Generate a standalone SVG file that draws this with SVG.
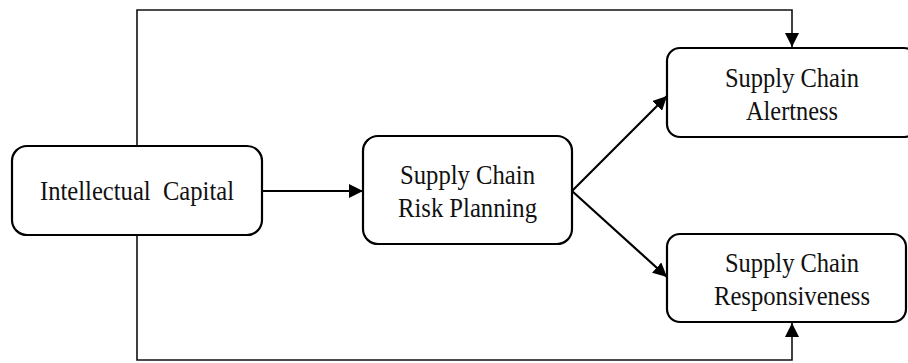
<svg xmlns="http://www.w3.org/2000/svg" width="908" height="363" viewBox="0 0 908 363">
<style>
.box{fill:#fff;stroke:#000;stroke-width:2.2}
.lbl{font-family:"Liberation Serif","Times New Roman",serif;font-size:27px;fill:#111;text-anchor:middle;white-space:pre}
.thin{fill:none;stroke:#111;stroke-width:1.6}
.thick{fill:none;stroke:#000;stroke-width:2.2}
</style>
<defs>
<marker id="ah" viewBox="0 0 14 14" refX="14" refY="7" markerWidth="14" markerHeight="14" markerUnits="userSpaceOnUse" orient="auto">
<path d="M0,0 L14,7 L0,14 Z" fill="#000"/>
</marker>
</defs>
<rect width="908" height="363" fill="#fff"/>
<g id="connectors">
<path class="thin" d="M137,146 V10 H792 V47" marker-end="url(#ah)"/>
<path class="thin" d="M137,235 V360 H792 V323" marker-end="url(#ah)"/>
<path class="thick" d="M263,191 H363" marker-end="url(#ah)"/>
<path class="thick" d="M572,191 L667,96" marker-end="url(#ah)"/>
<path class="thick" d="M572,191 L667,277" marker-end="url(#ah)"/>
</g>
<g id="intellectual-capital">
<rect class="box" x="12" y="146" width="250" height="89" rx="15"/>
<text class="lbl" x="137" y="200" textLength="194" lengthAdjust="spacingAndGlyphs" xml:space="preserve">Intellectual  Capital</text>
</g>
<g id="risk-planning">
<rect class="box" x="363" y="136" width="209" height="108" rx="15"/>
<text class="lbl" x="467.5" y="183.5" textLength="135" lengthAdjust="spacingAndGlyphs">Supply Chain</text>
<text class="lbl" x="467.5" y="217" textLength="139" lengthAdjust="spacingAndGlyphs">Risk Planning</text>
</g>
<g id="alertness">
<rect class="box" x="667" y="48" width="250" height="89" rx="13"/>
<text class="lbl" x="792" y="87" textLength="134" lengthAdjust="spacingAndGlyphs">Supply Chain</text>
<text class="lbl" x="792" y="119.5" textLength="92" lengthAdjust="spacingAndGlyphs">Alertness</text>
</g>
<g id="responsiveness">
<rect class="box" x="667" y="234" width="239" height="88" rx="13"/>
<text class="lbl" x="792" y="272" textLength="134" lengthAdjust="spacingAndGlyphs">Supply Chain</text>
<text class="lbl" x="792" y="305" textLength="156" lengthAdjust="spacingAndGlyphs">Responsiveness</text>
</g>
</svg>
